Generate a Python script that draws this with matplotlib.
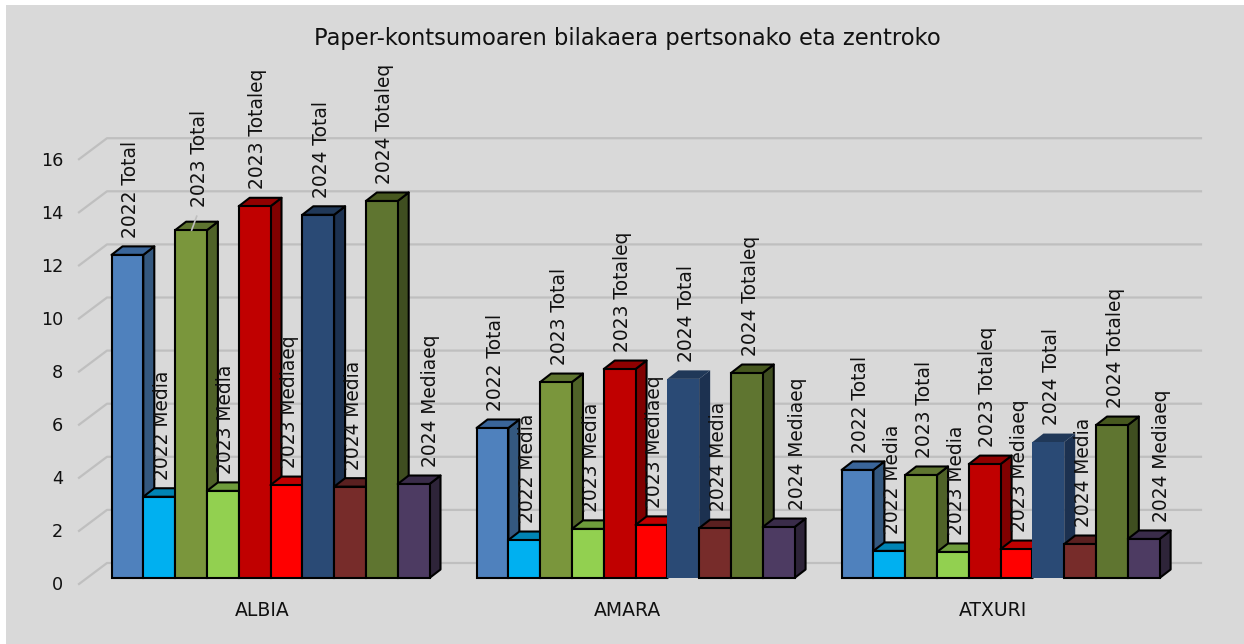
import matplotlib
matplotlib.use('Agg')
import matplotlib.pyplot as plt
from matplotlib.patches import Rectangle

# values
centros = ['ALBIA', 'AMARA', 'ATXURI']
series = ['2022 Total', '2022 Media', '2023 Total', '2023 Media', '2023 Totaleq',
          '2023 Mediaeq', '2024 Total', '2024 Media', '2024 Totaleq', '2024 Mediaeq']
albia = [12.17, 3.06, 13.1, 3.28, 14.0, 3.5, 13.68, 3.44, 14.2, 3.54]
amara = [5.65, 1.43, 7.38, 1.85, 7.87, 2.0, 7.5, 1.88, 7.72, 1.92]
atxuri = [4.07, 1.02, 3.88, 0.98, 4.29, 1.09, 5.12, 1.28, 5.76, 1.47]
y_ticks = [0, 2, 4, 6, 8, 10, 12, 14, 16]

color_front = ['#4F81BD', '#00B0F0', '#7A963C', '#92D050', '#C00000',
               '#FF0000', '#2A4A75', '#772C2A', '#5F7530', '#4D3B62']
color_side = ['#34587F', '#00739C', '#4F6228', '#5F8A34', '#800000',
              '#A80000', '#1C3150', '#4E1C1C', '#3F4E20', '#2E2439']
color_top = ['#3A6599', '#0084B4', '#5F7530', '#6E9C3C', '#900000',
             '#C00000', '#203858', '#5A2020', '#47581F', '#3A2C4A']

W, H = 1244, 644
PX_X = 31.8    # px per bar
PX_Y = 26.55   # px per unit
X0, Y0 = 111.5, 578
DX, DY = 11 / PX_X, 8.5 / PX_Y   # bar depth
GROUP_STEP = 11.48
last_label_shift = [13.5, 16, 15]   # px, the 2024 Mediaeq labels sit right of their bar

fig = plt.figure(figsize=(W / 100, H / 100), dpi=100, facecolor='white')
ax = fig.add_axes([0, 0, 1, 1])
ax.set_xlim(-X0 / PX_X, (W - X0) / PX_X)
ax.set_ylim(-(H - Y0) / PX_Y, Y0 / PX_Y)
ax.axis('off')

# grey panel
ax.add_patch(Rectangle((6 / W, 0), 1, 1 - 5 / H, transform=ax.transAxes,
                       facecolor='#D9D9D9', edgecolor='none', zorder=0))

ax.text(627 / W, 1 - 39 / H, 'Paper-kontsumoaren bilakaera pertsonako eta zentroko',
        transform=ax.transAxes, ha='center', va='center', fontsize=16.3, color='#111111')

# back wall lines and their diagonal
back_dy = 15 / PX_Y
x_left = (107 - X0) / PX_X
x_right = (1201 - X0) / PX_X
x_front = (79 - X0) / PX_X
for t in y_ticks:
    yb = t + back_dy
    ax.plot([x_front, x_left, x_right], [t - 6 / PX_Y, yb, yb], color='#BFBFBF',
            lw=1.6, zorder=1, solid_joinstyle='round')
    ax.text((63 - X0) / PX_X, t - 7.5 / PX_Y, str(t), ha='right', va='center',
            fontsize=12.7, color='#111111')

labels = []
for g, (centro, vals) in enumerate(zip(centros, [albia, amara, atxuri])):
    start = g * GROUP_STEP
    ax.text(start + 4.75, -32 / PX_Y, centro, ha='center', va='center',
            fontsize=13.5, color='#111111')
    for i, v in enumerate(vals):
        x = start + i
        z = 2 + g * 20 + i
        # the 2024 Total bars of AMARA and ATXURI have no outline
        edge = 'none' if (i == 6 and g > 0) else 'black'
        ax.fill([x + 1, x + 1 + DX, x + 1 + DX, x + 1], [0, DY, v + DY, v],
                facecolor=color_side[i], edgecolor=edge, lw=1.5, zorder=z, joinstyle='round')
        ax.fill([x, x + DX, x + 1 + DX, x + 1], [v, v + DY, v + DY, v],
                facecolor=color_top[i], edgecolor=edge, lw=1.5, zorder=z, joinstyle='round')
        ax.bar(x, v, width=1, align='edge', color=color_front[i], edgecolor=edge,
               lw=1.5, zorder=z + 0.5)
        labels.append((x + 0.6, v + DY + 8.5 / PX_Y, series[i], g, i, v))

for x, y, s, g, i, v in labels:
    if i == 9:
        x += last_label_shift[g] / PX_X
    if g == 0 and i == 2:
        # moved label with its leader line
        ax.plot([x - 0.08, x + 0.08], [v, v + 14 / PX_Y], color='#BFBFBF', lw=1.2, zorder=90)
        x, y = x + 5.7 / PX_X, y + 6 / PX_Y
    ax.text(x, y, s, rotation=90, ha='center', va='bottom', fontsize=13.4,
            color='#111111', zorder=100)

fig.savefig('out.png', dpi=100)
